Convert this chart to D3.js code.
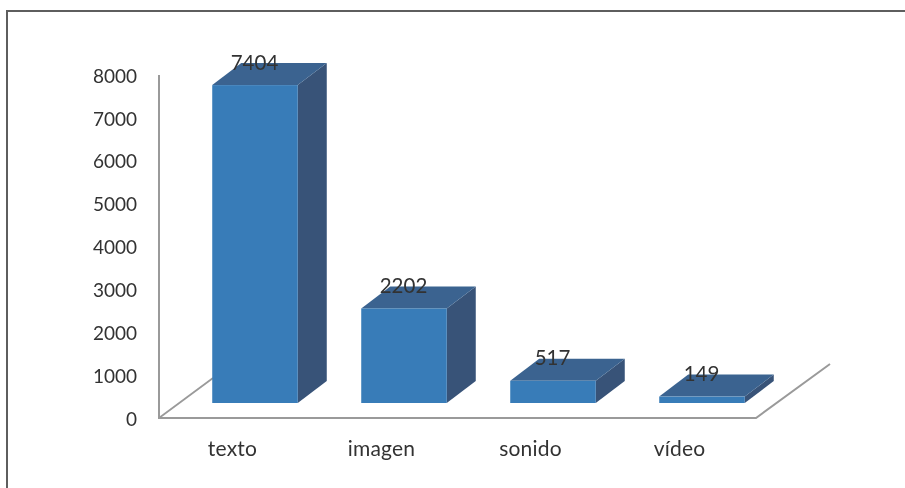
<!DOCTYPE html>
<html><head><meta charset="utf-8">
<script src="https://cdn.jsdelivr.net/npm/d3@7"></script>
<style>html,body{margin:0;padding:0;background:#fff}svg{display:block}text{font-family:Lato,sans-serif;fill:#333;}</style>
</head><body><svg id="c" width="905" height="488"></svg>
<script>
const categories=["texto","imagen","sonido","vídeo"];
const values=[7404,2202,517,149];
const tickValues=[0,1000,2000,3000,4000,5000,6000,7000,8000];
const svg=d3.select("#c");
const defs=svg.append("defs");
defs.append("filter").attr("id","soft").append("feGaussianBlur").attr("stdDeviation",0.7);
const W=905,H=488;
// frame
svg.append("path").attr("d",`M7 ${H}V11H${W}`).attr("fill","none").attr("stroke","#5e5e5e").attr("stroke-width",2);
const root=svg.append("g").attr("filter","url(#soft)");
const dx=29,dy=-22;
const x=d3.scaleBand().domain(categories).range([180.5,776.5]).paddingInner(0.426).paddingOuter(0.213);
const y=d3.scaleLinear().domain([0,8000]).range([403,59.5]);
// walls
const gray="#9a9a9a";
const axisL=159,axisR=756,axisB=418,axisT=75;
root.append("path").attr("d",`M${axisL} ${axisT}V${axisB}H${axisR}L830 364`).attr("fill","none").attr("stroke",gray).attr("stroke-width",2);
root.append("line").attr("x1",axisL).attr("y1",axisB).attr("x2",213).attr("y2",378).attr("stroke",gray).attr("stroke-width",1.8);
// bars
const bars=root.selectAll("g.bar").data(categories.map((c,i)=>({c,v:values[i]}))).join("g").attr("class","bar");
bars.append("path").attr("fill","#375278").attr("d",d=>{const r=x(d.c)+x.bandwidth();return `M${r} ${y(d.v)}L${r+dx} ${y(d.v)+dy}V${y(0)+dy}L${r} ${y(0)}Z`;});
bars.append("path").attr("fill","#3a6390").attr("d",d=>{const l=x(d.c),r=l+x.bandwidth(),t=y(d.v);return `M${l} ${t}L${l+dx} ${t+dy}H${r+dx}L${r} ${t}Z`;});
bars.append("rect").attr("fill","#377cb8").attr("x",d=>x(d.c)).attr("y",d=>y(d.v)).attr("width",x.bandwidth()).attr("height",d=>y(0)-y(d.v));
// y ticks
const yAxisScale=d3.scaleLinear().domain([0,8000]).range([axisB,axisT]);
root.selectAll("text.yt").data(tickValues).join("text").attr("class","yt").attr("x",137).attr("y",d=>yAxisScale(d)+1).attr("dy","0.35em").attr("text-anchor","end").attr("font-size",19).text(d=>d);
// categories
root.selectAll("text.xt").data(categories).join("text").attr("class","xt").attr("x",d=>x(d)+x.bandwidth()/2-22.5).attr("y",456).attr("text-anchor","middle").attr("font-size",21).attr("letter-spacing",0.2).text(d=>d);
// value labels
root.selectAll("text.v").data(values).join("text").attr("class","v").attr("x",(d,i)=>x(categories[i])+x.bandwidth()/2-0.5).attr("y",d=>y(d)-15.5).attr("text-anchor","middle").attr("font-size",20.5).text(d=>d);
</script></body></html>
